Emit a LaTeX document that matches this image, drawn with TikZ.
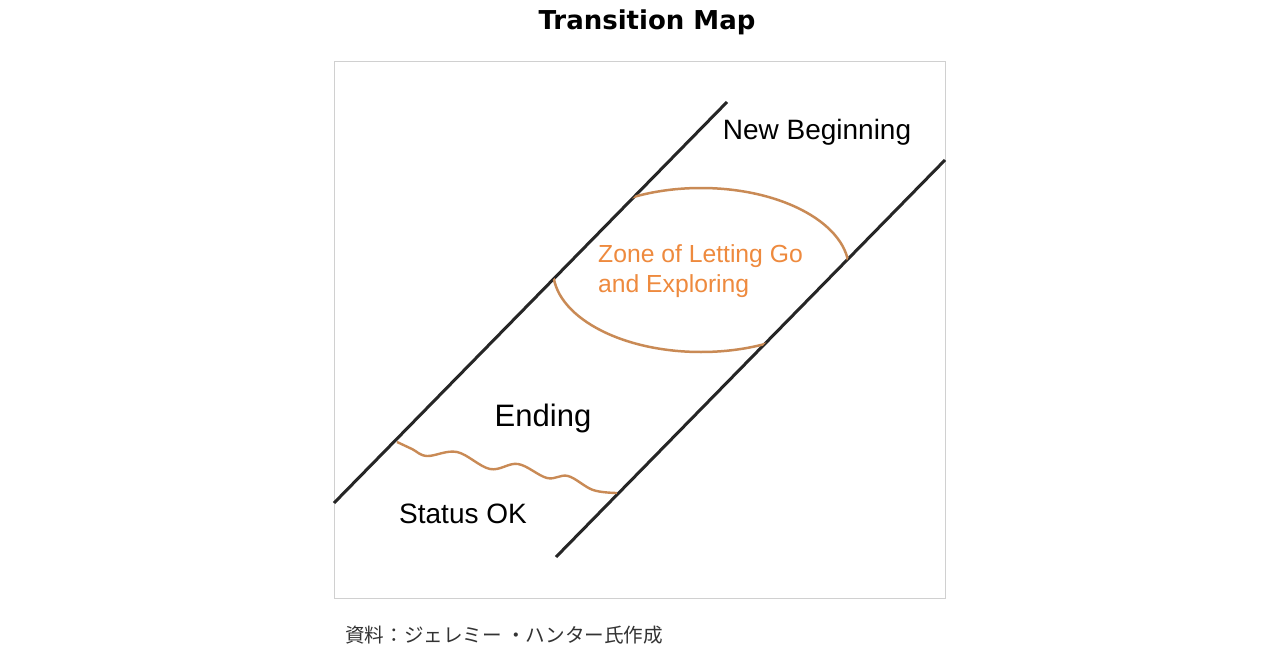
\documentclass[tikz,border=0pt]{standalone}
\usepackage{fontspec}
\setmainfont{Liberation Sans}
\newfontfamily\titlefont{DejaVu Sans}
\newfontfamily\cjk{Noto Sans CJK JP}
\usepackage{xcolor}
\usetikzlibrary{calc, positioning}
\definecolor{zonetext}{HTML}{EE8A3E}
\definecolor{zoneline}{HTML}{C98A55}
\definecolor{framegray}{HTML}{D0D0D0}
\tikzset{
  bandline/.style={line width=3pt, color=black!85},
  zoneline/.style={line width=2.5pt, color=zoneline},
  lbl/.style={inner sep=0pt, font=\fontsize{28}{32}\selectfont}
}
\begin{document}
\begin{tikzpicture}[x=1pt,y=-1pt]
    \useasboundingbox[fill=white] (0,0) rectangle (1280,669);
    % Titel:
    \node (title) at (647,22) {\titlefont\bfseries\fontsize{26}{30}\selectfont Transition Map};
    \draw[framegray, line width=1pt] (334,62) rectangle (945,598);
    % Band:
    \coordinate (l1) at (334,503);
    \coordinate (l2) at (727,102);
    \coordinate (r1) at (556,557);
    \coordinate (r2) at (945,160);
    \draw[bandline] (l1) -- (l2);
    \draw[bandline] (r1) -- (r2);
    % Zone (ellipse clipped to the band):
    \begin{scope}
        \clip (l1) -- (l2) -- (r2) -- (r1) -- cycle;
        \draw[zoneline] (701,270) ellipse (148 and 82);
    \end{scope}
    % Wavy line:
    \draw[zoneline, line width=2.4pt] plot[smooth, tension=0.6] coordinates {
        (397,442) (412,449) (427,456) (457,452) (490,469)
        (518,464) (547,478) (568,476) (593,490) (617,493)};
    \node[lbl] (newb) at (817,132) {New Beginning};
    \node[lbl, anchor=west, align=left, text=zonetext,
          font=\fontsize{24.7}{30}\selectfont] (zone) at (598,271) {Zone of Letting Go\\and Exploring};
    \node[lbl, font=\fontsize{31}{35}\selectfont] (ending) at (543,418) {Ending};
    \node[lbl] (status) at (463,514) {Status OK};
    \node[anchor=west, inner sep=0pt, text=black!80] (source) at (345,635)
        {\cjk\fontsize{19.6}{23}\selectfont 資料：ジェレミー ・ハンター氏作成};
\end{tikzpicture}
\end{document}
